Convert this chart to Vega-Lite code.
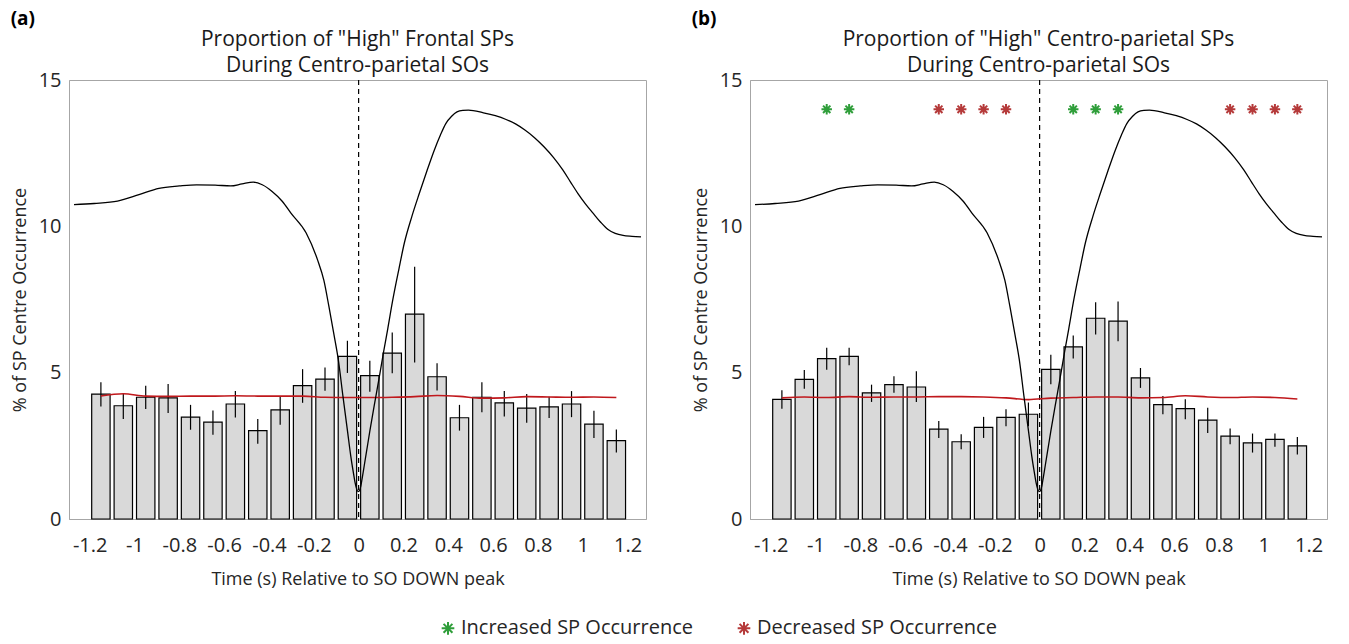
{
  "$schema": "https://vega.github.io/schema/vega-lite/v6.json",
  "padding": {"left": 10, "top": 9, "right": 4, "bottom": 0},
  "background": "white",
  "config": {
    "font": "Open Sans",
    "view": {"stroke": "#a6a6a6", "strokeWidth": 1},
    "axis": {
      "grid": false, "domainColor": "#a6a6a6", "labelColor": "#262626", "titleColor": "#262626",
      "labelFont": "Open Sans", "titleFont": "Open Sans", "labelFontSize": 20, "titleFontSize": 18,
      "titleFontWeight": "normal", "ticks": false
    },
    "title": {"font": "Open Sans", "color": "#1a1a1a"},
    "legend": {"labelFont": "Open Sans"}
  },
  "datasets": {
    "barsA": [
      {"t": -1.15, "v": 4.27, "lo": 3.84, "hi": 4.67},
      {"t": -1.05, "v": 3.87, "lo": 3.42, "hi": 4.27},
      {"t": -0.95, "v": 4.16, "lo": 3.76, "hi": 4.55},
      {"t": -0.85, "v": 4.14, "lo": 3.62, "hi": 4.61},
      {"t": -0.75, "v": 3.48, "lo": 3.05, "hi": 3.9},
      {"t": -0.65, "v": 3.31, "lo": 2.88, "hi": 3.71},
      {"t": -0.55, "v": 3.93, "lo": 3.47, "hi": 4.37},
      {"t": -0.45, "v": 3.02, "lo": 2.57, "hi": 3.42},
      {"t": -0.35, "v": 3.73, "lo": 3.22, "hi": 4.2},
      {"t": -0.25, "v": 4.56, "lo": 3.97, "hi": 5.12},
      {"t": -0.15, "v": 4.78, "lo": 4.38, "hi": 5.18},
      {"t": -0.05, "v": 5.56, "lo": 4.99, "hi": 6.09},
      {"t": 0.05, "v": 4.9, "lo": 4.35, "hi": 5.41},
      {"t": 0.15, "v": 5.67, "lo": 4.98, "hi": 6.37},
      {"t": 0.25, "v": 7.0, "lo": 5.35, "hi": 8.62},
      {"t": 0.35, "v": 4.86, "lo": 4.39, "hi": 5.32},
      {"t": 0.45, "v": 3.46, "lo": 3.02, "hi": 3.9},
      {"t": 0.55, "v": 4.16, "lo": 3.65, "hi": 4.67},
      {"t": 0.65, "v": 3.97, "lo": 3.5, "hi": 4.37},
      {"t": 0.75, "v": 3.79, "lo": 3.29, "hi": 4.27},
      {"t": 0.85, "v": 3.83, "lo": 3.45, "hi": 4.18},
      {"t": 0.95, "v": 3.93, "lo": 3.48, "hi": 4.37},
      {"t": 1.05, "v": 3.24, "lo": 2.77, "hi": 3.7},
      {"t": 1.15, "v": 2.68, "lo": 2.27, "hi": 3.06}
    ],
    "barsB": [
      {"t": -1.15, "v": 4.09, "lo": 3.77, "hi": 4.4},
      {"t": -1.05, "v": 4.77, "lo": 4.45, "hi": 5.09},
      {"t": -0.95, "v": 5.48, "lo": 5.1, "hi": 5.85},
      {"t": -0.85, "v": 5.56, "lo": 5.25, "hi": 5.85},
      {"t": -0.75, "v": 4.31, "lo": 4.0, "hi": 4.59},
      {"t": -0.65, "v": 4.59, "lo": 4.31, "hi": 4.88},
      {"t": -0.55, "v": 4.51, "lo": 4.0, "hi": 5.05},
      {"t": -0.45, "v": 3.07, "lo": 2.77, "hi": 3.35},
      {"t": -0.35, "v": 2.64, "lo": 2.38, "hi": 2.9},
      {"t": -0.25, "v": 3.13, "lo": 2.77, "hi": 3.49},
      {"t": -0.15, "v": 3.47, "lo": 3.17, "hi": 3.75},
      {"t": -0.05, "v": 3.58, "lo": 3.17, "hi": 3.98},
      {"t": 0.05, "v": 5.11, "lo": 4.6, "hi": 5.61},
      {"t": 0.15, "v": 5.88, "lo": 5.48, "hi": 6.27},
      {"t": 0.25, "v": 6.86, "lo": 6.3, "hi": 7.41},
      {"t": 0.35, "v": 6.76, "lo": 6.07, "hi": 7.43},
      {"t": 0.45, "v": 4.82, "lo": 4.48, "hi": 5.16},
      {"t": 0.55, "v": 3.91, "lo": 3.58, "hi": 4.2},
      {"t": 0.65, "v": 3.77, "lo": 3.41, "hi": 4.09},
      {"t": 0.75, "v": 3.38, "lo": 2.94, "hi": 3.8},
      {"t": 0.85, "v": 2.83, "lo": 2.55, "hi": 3.09},
      {"t": 0.95, "v": 2.6, "lo": 2.27, "hi": 2.92},
      {"t": 1.05, "v": 2.72, "lo": 2.47, "hi": 2.92},
      {"t": 1.15, "v": 2.5, "lo": 2.2, "hi": 2.8}
    ],
    "redA": [
      {"t": -1.15, "y": 4.2}, {"t": -1.05, "y": 4.28}, {"t": -0.95, "y": 4.2}, {"t": -0.85, "y": 4.19},
      {"t": -0.75, "y": 4.2}, {"t": -0.65, "y": 4.2}, {"t": -0.55, "y": 4.21}, {"t": -0.45, "y": 4.2},
      {"t": -0.35, "y": 4.2}, {"t": -0.25, "y": 4.2}, {"t": -0.15, "y": 4.16}, {"t": -0.05, "y": 4.15},
      {"t": 0.05, "y": 4.15}, {"t": 0.15, "y": 4.16}, {"t": 0.25, "y": 4.18}, {"t": 0.35, "y": 4.22},
      {"t": 0.45, "y": 4.19}, {"t": 0.55, "y": 4.13}, {"t": 0.65, "y": 4.14}, {"t": 0.75, "y": 4.18},
      {"t": 0.85, "y": 4.17}, {"t": 0.95, "y": 4.16}, {"t": 1.05, "y": 4.17}, {"t": 1.15, "y": 4.15}
    ],
    "redB": [
      {"t": -1.15, "y": 4.14}, {"t": -1.05, "y": 4.17}, {"t": -0.95, "y": 4.15}, {"t": -0.85, "y": 4.18},
      {"t": -0.75, "y": 4.16}, {"t": -0.65, "y": 4.17}, {"t": -0.55, "y": 4.17}, {"t": -0.45, "y": 4.18},
      {"t": -0.35, "y": 4.18}, {"t": -0.25, "y": 4.17}, {"t": -0.15, "y": 4.14}, {"t": -0.05, "y": 4.08},
      {"t": 0.05, "y": 4.13}, {"t": 0.15, "y": 4.15}, {"t": 0.25, "y": 4.17}, {"t": 0.35, "y": 4.17},
      {"t": 0.45, "y": 4.14}, {"t": 0.55, "y": 4.15}, {"t": 0.65, "y": 4.21}, {"t": 0.75, "y": 4.17},
      {"t": 0.85, "y": 4.15}, {"t": 0.95, "y": 4.17}, {"t": 1.05, "y": 4.15}, {"t": 1.15, "y": 4.1}
    ],
    "curve": [
      {"t": -1.27, "y": 10.74}, {"t": -1.18, "y": 10.78}, {"t": -1.076, "y": 10.86}, {"t": -0.98, "y": 11.08},
      {"t": -0.891, "y": 11.3}, {"t": -0.8, "y": 11.38}, {"t": -0.723, "y": 11.42}, {"t": -0.64, "y": 11.41},
      {"t": -0.571, "y": 11.38}, {"t": -0.52, "y": 11.45}, {"t": -0.47, "y": 11.51}, {"t": -0.43, "y": 11.42},
      {"t": -0.386, "y": 11.19}, {"t": -0.34, "y": 10.85}, {"t": -0.302, "y": 10.45}, {"t": -0.234, "y": 9.77},
      {"t": -0.184, "y": 8.87}, {"t": -0.155, "y": 8.15}, {"t": -0.133, "y": 7.28}, {"t": -0.11, "y": 6.3},
      {"t": -0.091, "y": 5.46}, {"t": -0.07, "y": 4.2}, {"t": -0.049, "y": 2.97}, {"t": -0.035, "y": 2.15},
      {"t": -0.024, "y": 1.61}, {"t": -0.016, "y": 1.25}, {"t": -0.009, "y": 1.03}, {"t": -0.003, "y": 0.94},
      {"t": 0.003, "y": 0.96}, {"t": 0.009, "y": 1.1}, {"t": 0.016, "y": 1.4}, {"t": 0.025, "y": 1.82},
      {"t": 0.035, "y": 2.29}, {"t": 0.05, "y": 3.0},
      {"t": 0.069, "y": 3.85}, {"t": 0.09, "y": 4.75}, {"t": 0.111, "y": 5.69}, {"t": 0.13, "y": 6.5},
      {"t": 0.153, "y": 7.51}, {"t": 0.18, "y": 8.55}, {"t": 0.204, "y": 9.43}, {"t": 0.238, "y": 10.35},
      {"t": 0.271, "y": 11.13}, {"t": 0.305, "y": 11.9}, {"t": 0.338, "y": 12.61}, {"t": 0.365, "y": 13.12},
      {"t": 0.389, "y": 13.51}, {"t": 0.415, "y": 13.76}, {"t": 0.439, "y": 13.91}, {"t": 0.465, "y": 13.96},
      {"t": 0.49, "y": 13.97}, {"t": 0.557, "y": 13.88}, {"t": 0.61, "y": 13.78}, {"t": 0.658, "y": 13.65},
      {"t": 0.7, "y": 13.5}, {"t": 0.742, "y": 13.29}, {"t": 0.785, "y": 13.03}, {"t": 0.827, "y": 12.72},
      {"t": 0.87, "y": 12.35}, {"t": 0.911, "y": 11.93}, {"t": 0.945, "y": 11.52}, {"t": 0.978, "y": 11.13},
      {"t": 1.012, "y": 10.77}, {"t": 1.046, "y": 10.45}, {"t": 1.08, "y": 10.14}, {"t": 1.113, "y": 9.89},
      {"t": 1.145, "y": 9.76}, {"t": 1.18, "y": 9.69}, {"t": 1.22, "y": 9.66}, {"t": 1.26, "y": 9.64}
    ],
    "zero": [{"t": 0}],
    "stars": [
      {"t": -0.95, "y": 14, "type": "Increased SP Occurrence"},
      {"t": -0.85, "y": 14, "type": "Increased SP Occurrence"},
      {"t": -0.45, "y": 14, "type": "Decreased SP Occurrence"},
      {"t": -0.35, "y": 14, "type": "Decreased SP Occurrence"},
      {"t": -0.25, "y": 14, "type": "Decreased SP Occurrence"},
      {"t": -0.15, "y": 14, "type": "Decreased SP Occurrence"},
      {"t": 0.15, "y": 14, "type": "Increased SP Occurrence"},
      {"t": 0.25, "y": 14, "type": "Increased SP Occurrence"},
      {"t": 0.35, "y": 14, "type": "Increased SP Occurrence"},
      {"t": 0.85, "y": 14, "type": "Decreased SP Occurrence"},
      {"t": 0.95, "y": 14, "type": "Decreased SP Occurrence"},
      {"t": 1.05, "y": 14, "type": "Decreased SP Occurrence"},
      {"t": 1.15, "y": 14, "type": "Decreased SP Occurrence"}
    ]
  },
  "spacing": 44,
  "hconcat": [
    {
      "title": {"text": "(a)", "anchor": "start", "frame": "bounds", "fontSize": 19, "fontWeight": "bold", "offset": 0, "color": "#000000"},
      "hconcat": [
        {
          "width": 577,
          "height": 439,
          "title": {"text": ["Proportion of \"High\" Frontal SPs", "During Centro-parietal SOs"], "fontSize": 21, "fontWeight": "normal", "lineHeight": 26, "offset": -6, "anchor": "middle"},
          "encoding": {
            "x": {"field": "t", "type": "quantitative", "scale": {"domain": [-1.27, 1.26], "nice": false, "zero": false},
                  "axis": {"title": "Time (s) Relative to SO DOWN peak", "values": [-1.2, -1, -0.8, -0.6, -0.4, -0.2, 0, 0.2, 0.4, 0.6, 0.8, 1, 1.2], "labelExpr": "'' + datum.value", "labelPadding": 16, "titlePadding": 15, "labelFlush": false}}
          },
          "layer": [
            {"data": {"name": "barsA"}, "mark": {"type": "bar", "width": 18.4, "fill": "#d9d9d9", "stroke": "#000000", "strokeWidth": 1.2},
             "encoding": {"y": {"field": "v", "type": "quantitative", "scale": {"domain": [0, 15], "nice": false}, "axis": {"title": "% of SP Centre Occurrence", "values": [0, 5, 10, 15], "labelPadding": 8, "titlePadding": 9}}}},
            {"data": {"name": "barsA"}, "mark": {"type": "rule", "color": "#000000", "strokeWidth": 1.2},
             "encoding": {"y": {"field": "lo", "type": "quantitative"}, "y2": {"field": "hi"}}},
            {"data": {"name": "zero"}, "mark": {"type": "rule", "color": "#000000", "strokeWidth": 1.2, "strokeDash": [5, 4]}, "encoding": {}},
            {"data": {"name": "redA"}, "mark": {"type": "line", "color": "#c0181c", "strokeWidth": 1.6, "interpolate": "monotone"},
             "encoding": {"y": {"field": "y", "type": "quantitative"}}},
            {"data": {"name": "curve"}, "mark": {"type": "line", "color": "#000000", "strokeWidth": 1.3, "interpolate": "monotone"},
             "encoding": {"y": {"field": "y", "type": "quantitative"}}}
          ]
        }
      ]
    },
    {
      "title": {"text": "(b)", "anchor": "start", "frame": "bounds", "fontSize": 19, "fontWeight": "bold", "offset": 0, "color": "#000000"},
      "hconcat": [
        {
          "width": 577,
          "height": 439,
          "title": {"text": ["Proportion of \"High\" Centro-parietal SPs", "During Centro-parietal SOs"], "fontSize": 21, "fontWeight": "normal", "lineHeight": 26, "offset": -6, "anchor": "middle"},
          "encoding": {
            "x": {"field": "t", "type": "quantitative", "scale": {"domain": [-1.27, 1.26], "nice": false, "zero": false},
                  "axis": {"title": "Time (s) Relative to SO DOWN peak", "values": [-1.2, -1, -0.8, -0.6, -0.4, -0.2, 0, 0.2, 0.4, 0.6, 0.8, 1, 1.2], "labelExpr": "'' + datum.value", "labelPadding": 16, "titlePadding": 15, "labelFlush": false}}
          },
          "layer": [
            {"data": {"name": "barsB"}, "mark": {"type": "bar", "width": 18.4, "fill": "#d9d9d9", "stroke": "#000000", "strokeWidth": 1.2},
             "encoding": {"y": {"field": "v", "type": "quantitative", "scale": {"domain": [0, 15], "nice": false}, "axis": {"title": "% of SP Centre Occurrence", "values": [0, 5, 10, 15], "labelPadding": 8, "titlePadding": 9}}}},
            {"data": {"name": "barsB"}, "mark": {"type": "rule", "color": "#000000", "strokeWidth": 1.2},
             "encoding": {"y": {"field": "lo", "type": "quantitative"}, "y2": {"field": "hi"}}},
            {"data": {"name": "zero"}, "mark": {"type": "rule", "color": "#000000", "strokeWidth": 1.2, "strokeDash": [5, 4]}, "encoding": {}},
            {"data": {"name": "redB"}, "mark": {"type": "line", "color": "#c0181c", "strokeWidth": 1.6, "interpolate": "monotone"},
             "encoding": {"y": {"field": "y", "type": "quantitative"}}},
            {"data": {"name": "curve"}, "mark": {"type": "line", "color": "#000000", "strokeWidth": 1.3, "interpolate": "monotone"},
             "encoding": {"y": {"field": "y", "type": "quantitative"}}},
            {"data": {"name": "stars"}, "mark": {"type": "point", "shape": "M-1,0H1M0,-1V1M-0.7,-0.7L0.7,0.7M-0.7,0.7L0.7,-0.7", "filled": false, "strokeWidth": 2, "size": 110, "opacity": 1},
             "encoding": {
               "y": {"field": "y", "type": "quantitative"},
               "color": {"field": "type", "type": "nominal",
                 "scale": {"domain": ["Increased SP Occurrence", "Decreased SP Occurrence"], "range": ["#2f9e3a", "#b53a3a"]},
                 "legend": {"orient": "none", "legendX": 369, "legendY": 538, "direction": "horizontal", "title": null,
                   "symbolType": "M-1,0H1M0,-1V1M-0.7,-0.7L0.7,0.7M-0.7,0.7L0.7,-0.7", "symbolSize": 160, "symbolStrokeWidth": 2,
                   "labelFontSize": 20, "labelColor": "#262626", "columnPadding": 40, "labelOffset": 3, "labelLimit": 400}}
             }}
          ]
        }
      ]
    }
  ]
}
